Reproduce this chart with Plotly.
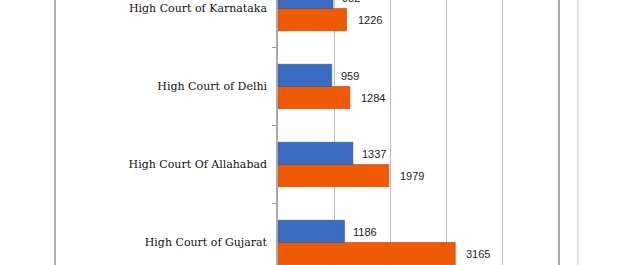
import plotly.graph_objects as go

# Data (top to bottom in the picture)
courts = ["High Court of Karnataka", "High Court of Delhi",
          "High Court Of Allahabad", "High Court of Gujarat"]
series_blue = [982, 959, 1337, 1186]
series_orange = [1226, 1284, 1979, 3165]

# plotly puts the first category at the bottom -> reverse lists
cats = courts[::-1]
blue = series_blue[::-1]
orange = series_orange[::-1]

BLUE = "#3a6cc2"
ORANGE = "#ef5a06"

fig = go.Figure()
fig.add_trace(go.Bar(y=cats, x=orange, orientation="h", name="orange",
                     marker=dict(color=ORANGE, line=dict(color="#b84300", width=0.6))))
fig.add_trace(go.Bar(y=cats, x=blue, orientation="h", name="blue",
                     marker=dict(color=BLUE, line=dict(color="#2a4f94", width=0.6))))

annos = []
for c, v in zip(cats, blue):
    annos.append(dict(x=v, y=c, xref="x", yref="y", text=str(v), showarrow=False,
                      xanchor="left", yanchor="middle", xshift=7, yshift=11,
                      font=dict(family="Liberation Sans, Arial", size=11, color="#222")))
for c, v in zip(cats, orange):
    annos.append(dict(x=v, y=c, xref="x", yref="y", text=str(v), showarrow=False,
                      xanchor="left", yanchor="middle", xshift=9, yshift=-11,
                      font=dict(family="Liberation Sans, Arial", size=11, color="#222")))

shapes = [
    dict(type="line", xref="paper", yref="paper", x0=-223/280, x1=-223/280, y0=0, y1=1,
         line=dict(color="#808080", width=1.2)),
    dict(type="line", xref="paper", yref="paper", x0=300/280, x1=300/280, y0=0, y1=1,
         line=dict(color="#c8c8c8", width=1)),
]

fig.update_layout(
    width=634, height=265,
    margin=dict(l=278, r=76, t=0, b=0),
    paper_bgcolor="white", plot_bgcolor="white",
    barmode="group", bargap=0.43, bargroupgap=0,
    showlegend=False,
    annotations=annos, shapes=shapes,
    xaxis=dict(range=[0, 5000], dtick=1000, showgrid=True, gridcolor="#bdbdbd",
               gridwidth=1, showticklabels=False, zeroline=False, ticks=""),
    yaxis=dict(categoryorder="array", categoryarray=cats,
               range=[-0.288, 3.109], showline=True, linecolor="#aaaaaa", linewidth=1.5,
               mirror=True, ticks="outside", tickson="boundaries", ticklen=4,
               tickcolor="#999999", ticklabelstandoff=7,
               tickfont=dict(family="DejaVu Serif", size=11, color="#111")),
)

fig.write_html("out.html")
